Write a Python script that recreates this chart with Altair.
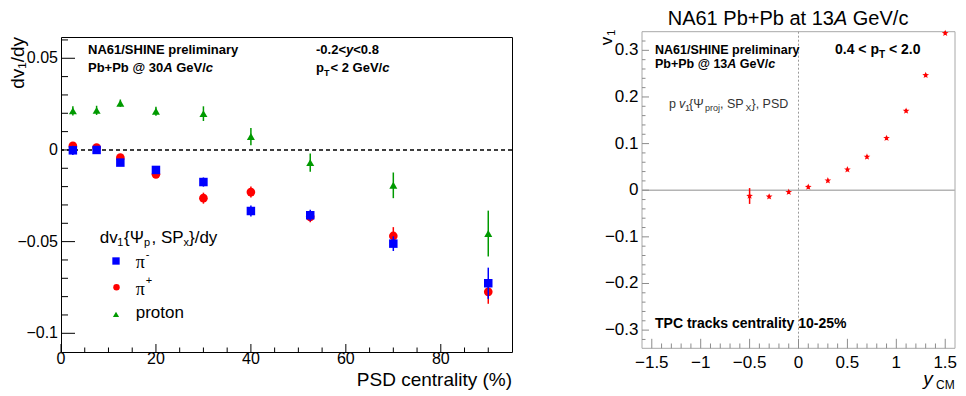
import altair as alt
import pandas as pd

FONT = "Liberation Sans"

# ---------------- left panel data ----------------
centrality = [2.5, 7.5, 12.5, 20, 30, 40, 52.5, 70, 90]
pim_val = [-0.0002, 0.0000, -0.0069, -0.0109, -0.0175, -0.0333, -0.0356, -0.0511, -0.0727]
pim_err = [0.0025, 0.0015, 0.0015, 0.0020, 0.0025, 0.0030, 0.0030, 0.0040, 0.0085]
pip_val = [0.0022, 0.0013, -0.0042, -0.0133, -0.0263, -0.0230, -0.0365, -0.0469, -0.0774]
pip_err = [0.0020, 0.0015, 0.0015, 0.0020, 0.0030, 0.0030, 0.0030, 0.0048, 0.0065]
prot_val = [0.0213, 0.0216, 0.0255, 0.0211, 0.0198, 0.0073, -0.0069, -0.0193, -0.0456]
prot_err = [0.0025, 0.0025, 0.0020, 0.0025, 0.0040, 0.0047, 0.0050, 0.0070, 0.0125]

left_x_ticks = [0, 20, 40, 60, 80]
left_y_ticks = [-0.1, -0.05, 0, 0.05]

# ---------------- right panel data ----------------
ycm = [-0.5, -0.3, -0.1, 0.1, 0.3, 0.5, 0.7, 0.9, 1.1, 1.3, 1.5]
v1_val = [-0.0124, -0.0139, -0.0039, 0.0069, 0.0208, 0.0444, 0.0715, 0.1116, 0.1700, 0.2466, 0.3367]
v1_err = [0.017, 0.004, 0.004, 0.004, 0.004, 0.004, 0.004, 0.004, 0.004, 0.004, 0.004]

right_x_ticks = [-1.5, -1, -0.5, 0, 0.5, 1, 1.5]
right_y_ticks = [-0.3, -0.2, -0.1, 0, 0.1, 0.2, 0.3]

LW, LH = 451, 315
RW, RH = 313, 311.3
RTOP = -5.3          # right frame sits a little above the shared row origin

one = pd.DataFrame({"k": [0]})


def fmt(v):
    return f"{v:g}".replace("-", "\u2212")


def txt(text, x, y, size, bold=False, italic=False, color="black",
        align="left", baseline="middle", angle=None, font=FONT, opacity=1):
    props = dict(text=text, fontSize=size, font=font,
                 fontWeight="bold" if bold else "normal",
                 fontStyle="italic" if italic else "normal",
                 color=color, align=align, baseline=baseline, opacity=opacity)
    if angle is not None:
        props["angle"] = angle
    return alt.Chart(one).mark_text(**props).encode(x=alt.value(x), y=alt.value(y))


def series_df(xs, vals, errs):
    d = pd.DataFrame({"x": xs, "v": vals, "e": errs})
    d["lo"] = d["v"] - d["e"]
    d["hi"] = d["v"] + d["e"]
    return d


def minor(lo, hi, step, majors):
    n = int(round((hi - lo) / step))
    out = []
    for i in range(n + 1):
        t = round(lo + i * step, 6)
        if all(abs(t - m) > 1e-9 for m in majors):
            out.append(t)
    return out


def yticks(vals, length, scale, color):
    return alt.Chart(pd.DataFrame({"t": vals})).mark_rule(color=color, strokeWidth=1).encode(
        y=alt.Y("t:Q", scale=scale, axis=None), x=alt.value(0), x2=alt.value(length))


def xticks(vals, length, scale, color, h):
    return alt.Chart(pd.DataFrame({"t": vals})).mark_rule(color=color, strokeWidth=1).encode(
        x=alt.X("t:Q", scale=scale, axis=None), y=alt.value(h), y2=alt.value(h - length))


def ylabels(vals, scale, xpos, size):
    d = pd.DataFrame({"t": vals, "lab": [fmt(v) for v in vals]})
    return alt.Chart(d).mark_text(align="right", baseline="middle", fontSize=size,
                                  font=FONT, color="black").encode(
        y=alt.Y("t:Q", scale=scale, axis=None), x=alt.value(xpos), text="lab:N")


def xlabels(vals, scale, ypos, size):
    d = pd.DataFrame({"t": vals, "lab": [fmt(v) for v in vals]})
    return alt.Chart(d).mark_text(align="center", baseline="middle", fontSize=size,
                                  font=FONT, color="black").encode(
        x=alt.X("t:Q", scale=scale, axis=None), y=alt.value(ypos), text="lab:N")


# ======================= LEFT PANEL =======================
lxs = alt.Scale(domain=[0, 95], nice=False, zero=False)
lys = alt.Scale(domain=[-0.1102, 0.0616], nice=False, zero=False)

zero_left = alt.Chart(pd.DataFrame({"z": [0]})).mark_rule(
    color="black", strokeDash=[4, 3], strokeWidth=1.5).encode(
    y=alt.Y("z:Q", scale=lys, axis=None))


def left_series(vals, errs, color, shape, size):
    d = series_df(centrality, vals, errs)
    base = alt.Chart(d)
    bars = base.mark_rule(color=color, strokeWidth=1.5).encode(
        x=alt.X("x:Q", scale=lxs, axis=None),
        y=alt.Y("lo:Q", scale=lys, axis=None), y2="hi:Q")
    pts = base.mark_point(filled=True, shape=shape, size=size, color=color, opacity=1).encode(
        x=alt.X("x:Q", scale=lxs, axis=None),
        y=alt.Y("v:Q", scale=lys, axis=None))
    return [bars, pts]


RED, BLUE, GREEN = "#ff0000", "#0000ff", "#009a00"

left_layers = [
    zero_left,
    yticks(left_y_ticks, 14, lys, "black"),
    yticks(minor(-0.09, 0.06, 0.01, left_y_ticks), 7, lys, "black"),
    xticks(left_x_ticks, 8, lxs, "black", LH),
    xticks(minor(5, 90, 5, left_x_ticks), 4.5, lxs, "black", LH),
    ylabels(left_y_ticks, lys, -3, 16),
    xlabels(left_x_ticks, lxs, 322, 16),
]
left_layers += left_series(pip_val, pip_err, RED, "circle", 75)
left_layers += left_series(pim_val, pim_err, BLUE, "square", 72)
left_layers += left_series(prot_val, prot_err, GREEN, "triangle-up", 64)

left_layers += [
    txt(".", 200, -28, 2, baseline="top", opacity=0),
    txt("NA61/SHINE preliminary", 27, 12.7, 13, bold=True),
    txt("Pb+Pb @ 30", 27, 30.7, 13, bold=True),
    txt("A", 102.2, 30.7, 13, bold=True, italic=True),
    txt("GeV/", 115.2, 30.7, 13, bold=True),
    txt("c", 144.8, 30.7, 13, bold=True, italic=True),
    txt("-0.2<", 255, 12.7, 13, bold=True),
    txt("y", 285, 12.7, 13, bold=True, italic=True),
    txt("<0.8", 292.2, 12.7, 13, bold=True),
    txt("p", 255, 30.7, 13, bold=True),
    txt("T", 263, 35.7, 9, bold=True),
    txt("< 2 GeV/", 269.5, 30.7, 13, bold=True),
    txt("c", 321.2, 30.7, 13, bold=True, italic=True),
    txt("dv\u2081/dy", -43, 0, 19, angle=270, align="right"),
    txt("PSD centrality (%)", LW, 343, 19, align="right"),
    # legend header
    txt("dv", 38.7, 200.7, 17),
    txt("1", 56.3, 205.5, 11),
    txt("{\u03a8", 63, 200.7, 17),
    txt("p", 83, 205.5, 11),
    txt(", SP", 90.5, 200.7, 17),
    txt("x", 122.5, 205.5, 11),
    txt("}/dy", 128, 200.7, 17),
    # legend entries
    alt.Chart(one).mark_point(filled=True, shape="square", size=54, color=BLUE, opacity=1).encode(
        x=alt.value(55), y=alt.value(224)),
    alt.Chart(one).mark_point(filled=True, shape="circle", size=42, color=RED, opacity=1).encode(
        x=alt.value(55.5), y=alt.value(250.2)),
    alt.Chart(one).mark_point(filled=True, shape="triangle-up", size=38, color=GREEN, opacity=1).encode(
        x=alt.value(55), y=alt.value(277.3)),
    txt("\u03c0", 74.7, 226, 18, font="Liberation Serif"),
    txt("-", 84.7, 217.5, 11),
    txt("\u03c0", 74.7, 252.5, 18, font="Liberation Serif"),
    txt("+", 84.7, 243.5, 11),
    txt("proton", 74.7, 275.7, 17),
]

left = alt.layer(*left_layers).properties(
    width=LW, height=LH, view=alt.ViewBackground(stroke="black", strokeWidth=1))

# ======================= RIGHT PANEL =======================
rxs = alt.Scale(domain=[-1.6, 1.6], nice=False, zero=False)
rys = alt.Scale(domain=[-0.339, 0.3286], nice=False, zero=False)
GRAY = "#8c8c8c"
FRAME = "#a8a8a8"

frame = [
    alt.Chart(one).mark_rule(color=FRAME).encode(x=alt.value(0), x2=alt.value(RW), y=alt.value(RTOP)),
    alt.Chart(one).mark_rule(color=FRAME).encode(x=alt.value(0), x2=alt.value(RW), y=alt.value(RH)),
    alt.Chart(one).mark_rule(color=FRAME).encode(x=alt.value(0), y=alt.value(RTOP), y2=alt.value(RH)),
    alt.Chart(one).mark_rule(color=FRAME).encode(x=alt.value(RW), y=alt.value(RTOP), y2=alt.value(RH)),
]

zero_right_h = alt.Chart(pd.DataFrame({"z": [0]})).mark_rule(color="#b4b4b4", strokeWidth=1.5).encode(
    y=alt.Y("z:Q", scale=rys, axis=None))
zero_right_v = alt.Chart(pd.DataFrame({"z": [0]})).mark_rule(
    color="#9a9a9a", strokeWidth=1, strokeDash=[2, 2]).encode(
    x=alt.X("z:Q", scale=rxs, axis=None), y=alt.value(RTOP), y2=alt.value(RH))

STAR = ("M0,-1L0.235,-0.324L0.951,-0.309L0.38,0.124L0.588,0.809L0,0.4L-0.588,0.809"
        "L-0.38,0.124L-0.951,-0.309L-0.235,-0.324Z")

rd = series_df(ycm, v1_val, v1_err)
r_bars = alt.Chart(rd).mark_rule(color=RED, strokeWidth=1.5).encode(
    x=alt.X("x:Q", scale=rxs, axis=None),
    y=alt.Y("lo:Q", scale=rys, axis=None), y2="hi:Q")
r_pts = alt.Chart(rd).mark_point(filled=True, shape=STAR, size=50, color=RED, opacity=1).encode(
    x=alt.X("x:Q", scale=rxs, axis=None),
    y=alt.Y("v:Q", scale=rys, axis=None))

DG = "#333333"
right_layers = frame + [
    zero_right_h, zero_right_v,
    yticks(right_y_ticks, 7, rys, GRAY),
    yticks(minor(-0.32, 0.32, 0.02, right_y_ticks), 3.5, rys, GRAY),
    xticks(right_x_ticks, 9.5, rxs, GRAY, RH),
    xticks(minor(-1.5, 1.5, 0.1, right_x_ticks), 4.8, rxs, GRAY, RH),
    ylabels(right_y_ticks, rys, -3.5, 17),
    xlabels(right_x_ticks, rxs, 325.7, 17),
    r_bars, r_pts,
    # title
    txt("NA61 Pb+Pb at 13", 25.7, -18, 20),
    txt("A", 191.9, -18, 20, italic=True),
    txt("GeV/c", 210.8, -18, 20),
    # annotations
    txt("NA61/SHINE preliminary", 13, 12.7, 12.5, bold=True),
    txt("Pb+Pb @ 13", 13, 27.3, 12.5, bold=True),
    txt("A", 85.3, 27.3, 12.5, bold=True, italic=True),
    txt("GeV/", 97.8, 27.3, 12.5, bold=True),
    txt("c", 126.3, 27.3, 12.5, bold=True, italic=True),
    txt("0.4 < p", 193, 13.3, 14, bold=True),
    txt("T", 237, 18.3, 10, bold=True),
    txt("< 2.0", 247, 13.3, 14, bold=True),
    txt("p", 27, 67.3, 12.5, color=DG),
    txt("v", 37, 67.3, 12.5, italic=True, color=DG),
    txt("1", 43, 71.3, 9, color=DG),
    txt("{\u03a8", 47, 67.3, 12.5, color=DG),
    txt("proj", 63, 71.3, 9, color=DG),
    txt(", SP", 78, 67.3, 12.5, color=DG),
    txt("X", 103.5, 71.3, 9, color=DG),
    txt("}, PSD", 109.5, 67.3, 12.5, color=DG),
    txt("TPC tracks centrality 10-25%", 13, 287.3, 14, bold=True),
    # axis titles
    txt("v", -35, 4, 17, angle=270, align="center"),
    txt("1", -30, -4.3, 11, angle=270, align="center"),
    txt("y", 286, 342, 19, italic=True, align="center"),
    txt("CM", 294, 347.7, 12),
]

right = alt.layer(*right_layers).properties(
    width=RW, height=RH, view=alt.ViewBackground(stroke=None, strokeWidth=0))

chart = alt.concat(left, right, columns=2, spacing=84).properties(
    padding={"left": 0, "top": 0, "right": 0, "bottom": 0}
).configure(font=FONT)

chart.save("out.html", embed_options={"renderer": "svg", "actions": False})
